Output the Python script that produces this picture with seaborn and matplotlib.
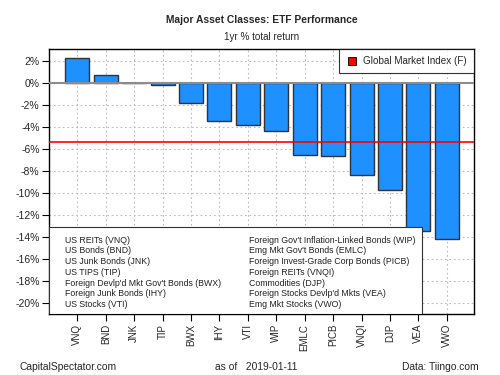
import numpy as np
import pandas as pd
import matplotlib
matplotlib.use('Agg')
import matplotlib.pyplot as plt
from matplotlib.lines import Line2D
from matplotlib.patches import Rectangle
import seaborn as sns

tickers = ['VNQ', 'BND', 'JNK', 'TIP', 'BWX', 'IHY', 'VTI', 'WIP',
           'EMLC', 'PICB', 'VNQI', 'DJP', 'VEA', 'VWO']
returns = [2.22, 0.70, 0.0, -0.15, -1.79, -3.42, -3.79, -4.40,
           -6.52, -6.61, -8.34, -9.71, -13.42, -14.17]
gmi = -5.37
names_left = ['US REITs (VNQ)', 'US Bonds (BND)', 'US Junk Bonds (JNK)', 'US TIPS (TIP)',
              "Foreign Devlp'd Mkt Gov't Bonds (BWX)", 'Foreign Junk Bonds (IHY)', 'US Stocks (VTI)']
names_right = ["Foreign Gov't Inflation-Linked Bonds (WIP)", "Emg Mkt Gov't Bonds (EMLC)",
               'Foreign Invest-Grade Corp Bonds (PICB)', 'Foreign REITs (VNQI)',
               'Commodities (DJP)', "Foreign Stocks Devlp'd Mkts (VEA)", 'Emg Mkt Stocks (VWO)']
yticks = list(range(-20, 3, 2))

sns.set_style('white')
plt.rcParams['font.family'] = ['Liberation Sans', 'DejaVu Sans']

df = pd.DataFrame({'ticker': tickers, 'ret': returns})

fig = plt.figure(figsize=(5, 3.75), dpi=100)
ax = fig.add_axes([0.0986, 0.1627, 0.8494, 0.7058])

# grid first
for y in yticks:
    ax.axhline(y, color='#bbbbbb', lw=0.8, ls=(0, (1.5, 2.5)), zorder=0)
for i in range(len(tickers)):
    ax.axvline(i, color='#bbbbbb', lw=0.8, ls=(0, (1.5, 2.5)), zorder=0)

sns.barplot(data=df, x='ticker', y='ret', color='#1E90FF', width=0.845,
            edgecolor='#333333', linewidth=1, saturation=1, ax=ax, zorder=2)
ax.axhline(0, color='#8c8c8c', lw=1.5, zorder=4)
ax.axhline(gmi, color='red', lw=1.2, zorder=3)

ax.set_xlim(-0.99, 13.96)
ax.set_ylim(-21, 3.05)
ax.set_yticks(yticks)
ax.set_yticklabels([f'{v}%' for v in yticks], fontsize=7.5)
ax.set_xticks(range(len(tickers)))
ax.set_xticklabels(tickers, rotation=90, fontsize=7)
ax.tick_params(axis='both', direction='out', length=5, width=0.8, color='black',
               bottom=True, left=True, pad=2)
ax.set_xlabel('')
ax.set_ylabel('')
for s in ax.spines.values():
    s.set_color('black')
    s.set_linewidth(1)

# legend
h = Line2D([], [], marker='s', color='none', markerfacecolor='red',
           markeredgecolor='black', markersize=6, markeredgewidth=0.6)
leg = ax.legend([h], ['Global Market Index (F)'], loc='upper right', fontsize=7.1,
                frameon=True, fancybox=False, borderaxespad=0, handletextpad=0.6,
                borderpad=0.7, handlelength=1.2)
leg.get_frame().set_edgecolor('black')
leg.get_frame().set_linewidth(0.8)
leg.set_zorder(6)

# name box
box = Rectangle((0, 0), 0.877, 0.327, transform=ax.transAxes, facecolor='white',
                edgecolor='#333333', lw=0.8, zorder=5)
ax.add_patch(box)
y0 = 0.327 - 0.048
dy = 0.0405
for k, (a, b) in enumerate(zip(names_left, names_right)):
    ax.text(0.037, y0 - k * dy, a, transform=ax.transAxes, fontsize=6.3,
            va='center', ha='left', color='#222222', zorder=6)
    ax.text(0.47, y0 - k * dy, b, transform=ax.transAxes, fontsize=6.3,
            va='center', ha='left', color='#222222', zorder=6)

fig.text(0.524, 0.947, 'Major Asset Classes: ETF Performance', ha='center', va='center',
         fontsize=7.4, fontweight='bold')
fig.text(0.524, 0.901, '1yr % total return', ha='center', va='center', fontsize=7.1)
fig.text(0.04, 0.021, 'CapitalSpectator.com', ha='left', va='center', fontsize=7.4)
fig.text(0.43, 0.021, 'as of   2019-01-11', ha='left', va='center', fontsize=7.4)
fig.text(0.957, 0.021, 'Data: Tiingo.com', ha='right', va='center', fontsize=7.4)

fig.savefig('out.png', dpi=100, facecolor='white')
